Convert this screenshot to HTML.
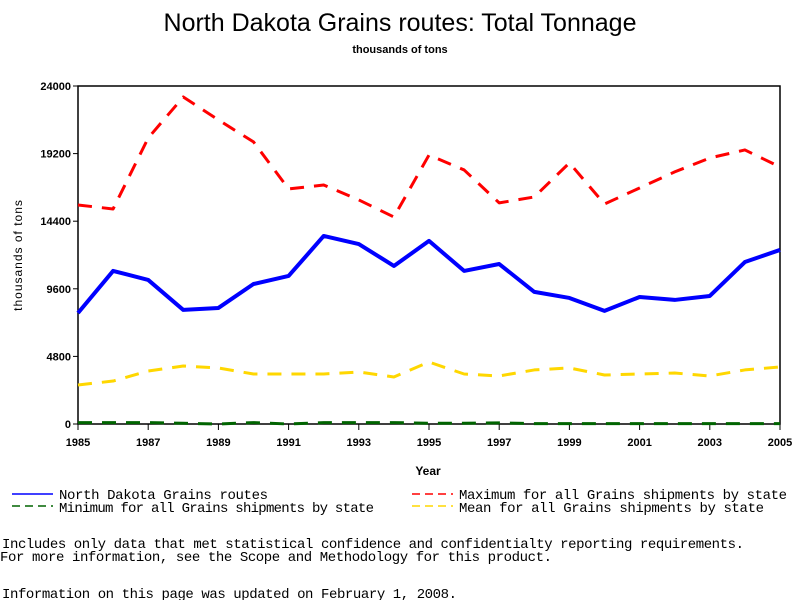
<!DOCTYPE html>
<html><head><meta charset="utf-8"><style>
body{margin:0;background:#fff;width:800px;height:600px;overflow:hidden}
svg{display:block}
text{font-family:"Liberation Sans",sans-serif}
.mono{font-family:"Liberation Mono",monospace;font-size:14px}
</style></head><body>
<svg id="chart" width="800" height="600">
<text x="400" y="31" text-anchor="middle" font-size="25">North Dakota Grains routes: Total Tonnage</text>
<text x="400" y="53" text-anchor="middle" font-size="11" font-weight="bold">thousands of tons</text>
<rect x="78" y="86" width="702" height="338" fill="none" stroke="#000" stroke-width="1.5"/>
<g id="axes"></g>
<g id="series"></g>
<text x="428" y="475" text-anchor="middle" font-size="12" font-weight="bold">Year</text>
<text transform="translate(22,255) rotate(-90)" text-anchor="middle" font-size="12" letter-spacing="1">thousands of tons</text>
<g>
<line x1="12" y1="494" x2="53" y2="494" stroke="#00f" stroke-width="1.5"/>
<text class="mono" x="59" y="499" textLength="209">North Dakota Grains routes</text>
<line x1="412" y1="494" x2="453" y2="494" stroke="#f00" stroke-width="1.5" stroke-dasharray="8,5"/>
<text class="mono" x="459" y="499" textLength="328">Maximum for all Grains shipments by state</text>
<line x1="12" y1="506" x2="53" y2="506" stroke="#006400" stroke-width="1.5" stroke-dasharray="8,5"/>
<text class="mono" x="59" y="512" textLength="315">Minimum for all Grains shipments by state</text>
<line x1="412" y1="506" x2="453" y2="506" stroke="#ffd700" stroke-width="1.5" stroke-dasharray="8,5"/>
<text class="mono" x="459" y="512" textLength="305">Mean for all Grains shipments by state</text>
</g>
<text class="mono" x="2" y="548" textLength="742">Includes only data that met statistical confidence and confidentialty reporting requirements.</text>
<text class="mono" x="0" y="561" textLength="552">For more information, see the Scope and Methodology for this product.</text>
<text class="mono" x="2" y="598" textLength="455">Information on this page was updated on February 1, 2008.</text>
</svg>
<script>
const years=[1985,1986,1987,1988,1989,1990,1991,1992,1993,1994,1995,1996,1997,1998,1999,2000,2001,2002,2003,2004,2005];
const ndValues=[7880,10870,10230,8100,8240,9940,10510,13350,12780,11220,13000,10870,11360,9380,8950,8030,9020,8810,9090,11500,12360];
const maxValues=[15550,15270,20310,23220,21590,20030,16690,16970,15910,14700,19100,18040,15700,16120,18540,15620,16760,17900,18890,19460,18250];
const meanValues=[2770,3050,3760,4120,3980,3550,3550,3550,3690,3340,4400,3550,3410,3840,3980,3480,3550,3620,3410,3840,4050];
const minValues=[100,100,100,50,0,100,0,100,100,100,50,50,80,30,30,30,30,30,30,30,30];
const yTicks=[0,4800,9600,14400,19200,24000];
const xTicks=[1985,1987,1989,1991,1993,1995,1997,1999,2001,2003,2005];
const NS="http://www.w3.org/2000/svg";
const X=v=>78+(v-1985)*702/20;
const Y=v=>424-v*338/24000;
const axes=document.getElementById('axes'),ser=document.getElementById('series');
function mk(tag,attrs,parent){const e=document.createElementNS(NS,tag);for(const k in attrs)e.setAttribute(k,attrs[k]);parent.appendChild(e);return e;}
yTicks.forEach(t=>{
 const l=mk('line',{x1:73,x2:78,y1:Y(t),y2:Y(t),stroke:'#000'},axes);
 
 
 const tx=mk('text',{x:71,y:Y(t)+4,'text-anchor':'end','font-size':11,'font-weight':'bold'},axes);
 tx.textContent=t;
 
 
});
xTicks.forEach(t=>{
 const l=mk('line',{x1:X(t),x2:X(t),y1:424,y2:430,stroke:'#000'},axes);
 
 
 const tx=mk('text',{x:X(t),y:446,'text-anchor':'middle','font-size':11,'font-weight':'bold'},axes);
 tx.textContent=t;
 
 
});
function line(vals,color,w,dash,name){
 const p=mk('polyline',{points:vals.map((v,i)=>X(years[i])+','+Y(v)).join(' '),fill:'none',stroke:color,'stroke-width':w,'stroke-linejoin':'round'},ser);
 if(dash)p.setAttribute('stroke-dasharray',dash);
 
 
}
line(minValues,'#006400',3,'14,10','series-minimum');
line(meanValues,'#ffd700',3,'14,10','series-mean');
line(maxValues,'#f00',3,'14,10','series-maximum');
line(ndValues,'#00f',4,null,'series-north-dakota');
</script>
</body></html>
